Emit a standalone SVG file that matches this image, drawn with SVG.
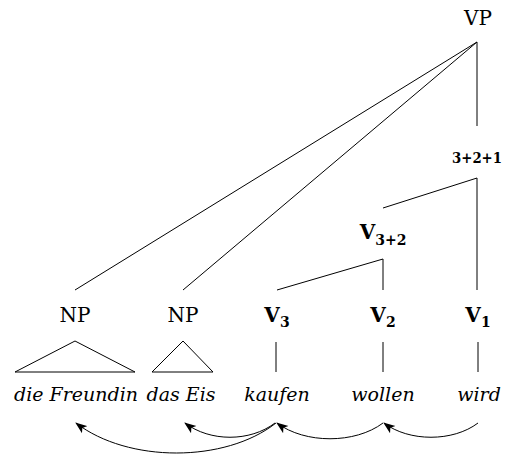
<svg xmlns="http://www.w3.org/2000/svg" width="505" height="455" viewBox="0 0 505 455">
<style>
  .lbl { font-family: "DejaVu Serif", "Liberation Serif", serif; font-size: 20px; fill: #000; text-anchor: middle; }
  .bold { font-weight: bold; }
  .small { font-size: 14px; }
  .word { font-family: "DejaVu Serif", "Liberation Serif", serif; font-size: 19px; font-style: italic; fill: #000; text-anchor: middle; }
  .sub { font-size: 14px; }
  .edge { stroke: #000; stroke-width: 1; fill: none; }
  .arc { stroke: #000; stroke-width: 1; fill: none; marker-end: url(#tip); }
</style>
<defs>
  <marker id="tip" markerUnits="userSpaceOnUse" markerWidth="12" markerHeight="10" viewBox="0 0 12 10" refX="11" refY="5" orient="auto">
    <path d="M0,0.5 L12,5 L0,9.5 L3,5 Z" fill="#000"/>
  </marker>
</defs>
<rect width="505" height="455" fill="#fff"/>
<g id="connectors">
  <line class="edge" x1="477" y1="42" x2="75" y2="290"/>
  <line class="edge" x1="477" y1="42" x2="183" y2="290"/>
  <line class="edge" x1="477" y1="42" x2="477" y2="126"/>
  <line class="edge" x1="477" y1="178" x2="383" y2="208"/>
  <line class="edge" x1="477" y1="178" x2="477" y2="290"/>
  <line class="edge" x1="383" y1="259" x2="277" y2="290"/>
  <line class="edge" x1="383" y1="259" x2="383" y2="290"/>
  <polygon class="edge" points="75,341 15,372 135,372"/>
  <polygon class="edge" points="183,341 152,372 213,372"/>
  <line class="edge" x1="276" y1="342" x2="276" y2="372"/>
  <line class="edge" x1="383" y1="342" x2="383" y2="372"/>
  <line class="edge" x1="478" y1="342" x2="478" y2="372"/>
  <path class="arc" d="M276,423 C225,463 128,463 76,423"/>
  <path class="arc" d="M275,423 C250,442 210,442 185,423"/>
  <path class="arc" d="M383,423 C355,444 305,444 277,423"/>
  <path class="arc" d="M478,423 C453,442 409,442 384,423"/>
</g>
<g id="vp"><text class="lbl" x="478" y="25">VP</text></g>
<g id="v321"><text class="lbl bold small" x="477" y="163" textLength="50" lengthAdjust="spacingAndGlyphs">3+2+1</text></g>
<g id="v32"><text class="lbl bold" x="383" y="239">V<tspan class="sub" dy="6">3+2</tspan></text></g>
<g id="np1"><text class="lbl" x="75" y="322">NP</text></g>
<g id="np2"><text class="lbl" x="183" y="322">NP</text></g>
<g id="v3"><text class="lbl bold" x="277" y="322">V<tspan class="sub" dy="5">3</tspan></text></g>
<g id="v2"><text class="lbl bold" x="383" y="322">V<tspan class="sub" dy="5">2</tspan></text></g>
<g id="v1"><text class="lbl bold" x="478" y="322">V<tspan class="sub" dy="5">1</tspan></text></g>
<g id="w1"><text class="word" x="76" y="401">die Freundin</text></g>
<g id="w2"><text class="word" x="181" y="401">das Eis</text></g>
<g id="w3"><text class="word" x="277" y="401">kaufen</text></g>
<g id="w4"><text class="word" x="383" y="401">wollen</text></g>
<g id="w5"><text class="word" x="479" y="401">wird</text></g>
</svg>
